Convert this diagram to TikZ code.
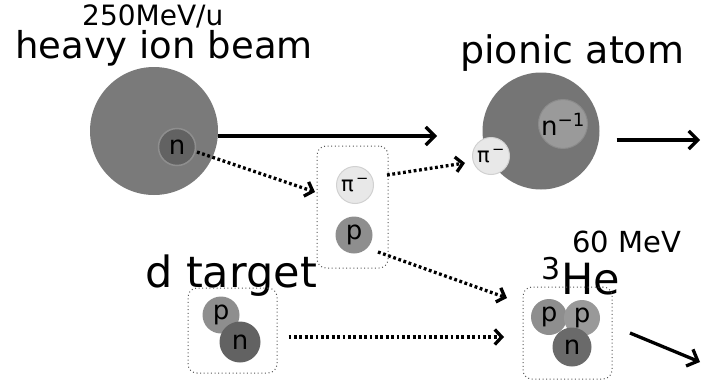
\documentclass[tikz,border=0pt]{standalone}
\usepackage{fontspec}
\setmainfont{DejaVu Sans}
\usetikzlibrary{arrows.meta,calc}

\definecolor{bigball}{HTML}{7A7A7A}
\definecolor{neutron}{HTML}{626262}
\definecolor{proton}{HTML}{8E8E8E}
\definecolor{pion}{HTML}{E8E8E8}
\definecolor{hole}{HTML}{9A9A9A}
\definecolor{boxline}{HTML}{555555}

\begin{document}
\begin{tikzpicture}[x=1pt,y=-1pt,
  ball/.style={circle, inner sep=0pt, minimum size=#1},
  label/.style={anchor=base west, inner sep=0pt},
  particle/.style={font=\fontsize{26}{26}\selectfont},
  pionfont/.style={font=\fontsize{21}{21}\selectfont},
  groupbox/.style={draw=boxline, line width=1pt, dash pattern=on 1pt off 2.6pt,
    rounded corners=9pt},
  beamarrow/.style={line width=3.3pt, -{Straight Barb[length=9pt,width=18pt]}},
  dotarrow/.style={line width=3.3pt, dash pattern=on 2.8pt off 2.6pt,
    -{Straight Barb[length=7pt,width=15pt]}}
]
\useasboundingbox (0,0) rectangle (702,383);

% titles
\node[label, font=\fontsize{28}{28}\selectfont] (energy) at (82,25.5) {250MeV/u};
\node[label, font=\fontsize{37}{37}\selectfont] (beamtitle) at (15,58) {heavy ion beam};
\node[label, font=\fontsize{38}{38}\selectfont] (atomtitle) at (460,63) {pionic atom};

% heavy ion
\node[ball=128pt, fill=bigball] (heavy) at (154,131) {};
\node[ball=37pt, fill=neutron, draw=bigball!85!white, line width=1.5pt, particle] (nh) at (177,147) {n};

% pion + proton pair
\node[groupbox, minimum width=71pt, minimum height=122pt] (pair) at (352.5,207) {};
\node[ball=37pt, fill=pion, draw=pion!90!black, line width=1pt, pionfont] (pim) at (355,185) {π\textsuperscript{\,−}};
\node[ball=37pt, fill=proton, particle] (pm) at (354,235) {p};

% pionic atom
\node[ball=117pt, fill=bigball!96!black] (atom) at (541,131) {};
\node[ball=38pt, fill=hole, draw=hole!90!black, line width=1pt, particle] (nhole) at (563,124) {n\textsuperscript{−1}};
\node[ball=37pt, fill=pion, draw=pion!90!black, line width=1pt, pionfont] (pia) at (491,156) {π\textsuperscript{\,−}};

% deuteron target
\node[label, font=\fontsize{43}{43}\selectfont] (dtitle) at (145,287) {d target};
\node[groupbox, minimum width=89pt, minimum height=85pt] (dbox) at (232.5,330.5) {};
\node[ball=37pt, fill=proton, particle] (dp) at (221,315) {p};
\node[ball=41pt, fill=neutron, particle] (dn) at (240,342) {n};

% helium-3
\node[label, font=\fontsize{29}{29}\selectfont] (ejectile) at (572,252) {60 MeV};
\node[label, font=\fontsize{30}{30}\selectfont] (hemass) at (541,279) {3};
\node[label, font=\fontsize{43}{43}\selectfont] (hetitle) at (561,294) {He};
\node[groupbox, minimum width=89pt, minimum height=92pt] (hebox) at (567.5,333) {};
\node[ball=36pt, fill=proton, particle] (hp1) at (549,317) {p};
\node[ball=36pt, fill=proton!90!white, particle] (hp2) at (582,318) {p};
\node[ball=39pt, fill=neutron!95!white, particle] (hn) at (572,347) {n};

% connector ends
\coordinate (beamtip) at (437,136);
\coordinate (outtip) at (700,140);
\coordinate (nstart) at (197,152);
\coordinate (ntip) at (315,192);
\coordinate (pistart) at (387,175);
\coordinate (pitip) at (465,163);
\coordinate (pstart) at (378,252);
\coordinate (ptip) at (507,298);
\coordinate (dtip) at (504,337);
\coordinate (hestart) at (630,333);
\coordinate (hetip) at (700,362);

% beam flow
\draw[beamarrow] (heavy.east |- beamtip) -- (beamtip);
\draw[beamarrow] (atom.east |- outtip) ++(17,0) -- (outtip);
\draw[dotarrow] (nstart) -- (ntip);
\draw[dotarrow] (pistart) -- (pitip);
\draw[dotarrow] (pstart) -- (ptip);
\draw[dotarrow] (dbox.east |- dtip) ++(11,0) -- (dtip);
\draw[beamarrow] (hestart) -- (hetip);
\end{tikzpicture}
\end{document}
